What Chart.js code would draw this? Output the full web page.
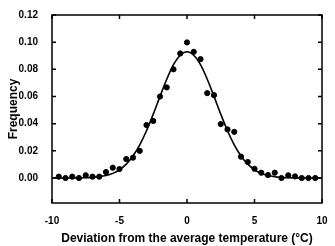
<!DOCTYPE html>
<html>
<head>
<meta charset="utf-8">
<script src="https://cdn.jsdelivr.net/npm/chart.js@4/dist/chart.umd.min.js"></script>
<style>
  html, body { margin: 0; padding: 0; background: #fff; }
  #wrap { width: 335px; height: 246px; }
</style>
</head>
<body>
<div id="wrap"><canvas id="freqChart" width="335" height="246"></canvas></div>
<script>
// observed frequencies, every 0.5 degree
const deviations = [-9.5, -9, -8.5, -8, -7.5, -7, -6.5, -6, -5.5, -5, -4.5, -4, -3.5, -3, -2.5, -2, -1.5, -1, -0.5,
    0, 0.5, 1, 1.5, 2, 2.5, 3, 3.5, 4, 4.5, 5, 5.5, 6, 6.5, 7, 7.5, 8, 8.5, 9, 9.5];
const frequencies = [0.001, 0.000, 0.001, 0.000, 0.002, 0.001, 0.001, 0.0044, 0.0076, 0.0066, 0.014, 0.015, 0.020,
    0.039, 0.042, 0.060, 0.0667, 0.080, 0.0917, 0.0998, 0.0929, 0.0875, 0.0625, 0.061, 0.0397, 0.0358, 0.034,
    0.0157, 0.0118, 0.0068, 0.0039, 0.0022, 0.0039, 0.000, 0.002, 0.0012, 0.000, 0.000, 0.000];

// fitted curve
const fitX = [-10, -9, -8, -7.5, -7, -6.5, -6, -5.5, -5, -4.5, -4, -3.5, -3, -2.5, -2, -1.5, -1, -0.5,
    0, 0.5, 1, 1.5, 2, 2.5, 3, 3.5, 4, 4.5, 5, 5.5, 6, 6.5, 7, 7.5, 8, 9, 10];
const fitY = [0, 0, 0.0001, 0.0002, 0.0004, 0.0009, 0.0018, 0.0034, 0.0061, 0.0102, 0.0162, 0.0244, 0.0348,
    0.0470, 0.0601, 0.0727, 0.0834, 0.0904, 0.0930, 0.0904, 0.0834, 0.0727, 0.0601, 0.0470, 0.0348, 0.0244,
    0.0162, 0.0102, 0.0061, 0.0034, 0.0018, 0.0009, 0.0004, 0.0002, 0.0001, 0, 0];

const xTicks = [-10, -5, 0, 5, 10];
const yTicks = [0, 0.02, 0.04, 0.06, 0.08, 0.10, 0.12];

// box around the plot plus tick marks pointing inwards
const frameTicks = {
    id: 'frameTicks',
    afterDatasetsDraw(chart) {
        const { ctx, chartArea: a, scales } = chart;
        const len = 4;
        ctx.save();
        ctx.strokeStyle = '#000';
        ctx.lineWidth = 1.5;
        ctx.strokeRect(a.left, a.top, a.right - a.left, a.bottom - a.top);
        ctx.beginPath();
        xTicks.forEach(v => {
            const px = scales.x.getPixelForValue(v);
            ctx.moveTo(px, a.bottom); ctx.lineTo(px, a.bottom - len);
            ctx.moveTo(px, a.top); ctx.lineTo(px, a.top + len);
        });
        yTicks.forEach(v => {
            const py = scales.y.getPixelForValue(v);
            ctx.moveTo(a.left, py); ctx.lineTo(a.left + len, py);
            ctx.moveTo(a.right, py); ctx.lineTo(a.right - len, py);
        });
        ctx.stroke();
        ctx.restore();
    }
};

const tickFont = { family: 'Liberation Sans', size: 10, weight: 'bold' };
const titleFont = { family: 'Liberation Sans', size: 12, weight: 'bold' };

new Chart(document.getElementById('freqChart').getContext('2d'), {
    type: 'scatter',
    data: {
        datasets: [{
            label: 'Observed',
            data: deviations.map((d, i) => ({ x: d, y: frequencies[i] })),
            backgroundColor: '#000',
            borderColor: '#000',
            pointRadius: 2.6,
            pointHoverRadius: 2.6,
            order: 1
        }, {
            label: 'Fit',
            data: fitX.map((d, i) => ({ x: d, y: fitY[i] })),
            showLine: true,
            borderColor: '#000',
            borderWidth: 1.6,
            pointRadius: 0,
            cubicInterpolationMode: 'monotone',
            order: 2
        }]
    },
    options: {
        responsive: false,
        animation: false,
        layout: { padding: { top: 15, right: 13, left: 0, bottom: 0 } },
        plugins: {
            legend: { display: false },
            tooltip: { enabled: false }
        },
        scales: {
            x: {
                type: 'linear',
                min: -10,
                max: 10,
                afterBuildTicks: s => { s.ticks = xTicks.map(v => ({ value: v })); },
                afterFit: s => { s.height = 43; },
                grid: { display: false },
                border: { display: false },
                ticks: { font: tickFont, color: '#000', padding: 4, maxRotation: 0 },
                title: {
                    display: true,
                    text: 'Deviation from the average temperature (°C)',
                    font: titleFont,
                    color: '#000',
                    padding: { top: 6, bottom: 0 }
                }
            },
            y: {
                type: 'linear',
                min: -0.0184,
                max: 0.12,
                afterBuildTicks: s => { s.ticks = yTicks.map(v => ({ value: v })); },
                afterFit: s => { s.width = 52; },
                grid: { display: false },
                border: { display: false },
                ticks: {
                    font: tickFont,
                    color: '#000',
                    padding: 6,
                    callback: v => v.toFixed(2)
                },
                title: {
                    display: true,
                    text: 'Frequency',
                    font: titleFont,
                    color: '#000',
                    padding: { top: 6, bottom: 0 }
                }
            }
        }
    },
    plugins: [frameTicks]
});
</script>
</body>
</html>
